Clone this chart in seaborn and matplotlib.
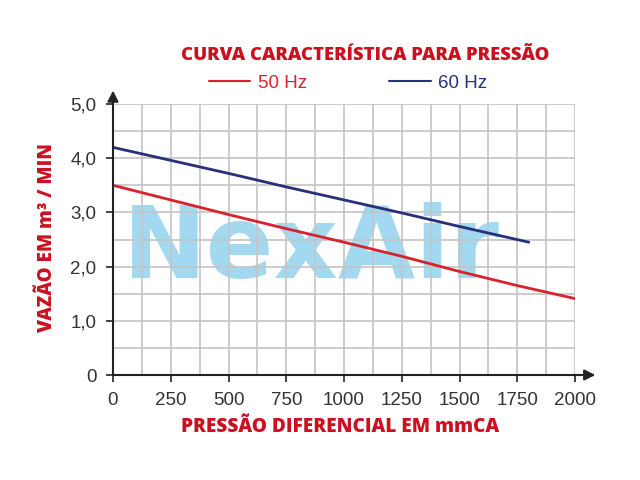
import matplotlib
matplotlib.use("Agg")
import matplotlib.pyplot as plt
import seaborn as sns
import pandas as pd
import numpy as np
from matplotlib.ticker import MultipleLocator, FixedLocator
from matplotlib.lines import Line2D

# ---- data ----
x_50 = [0, 250, 500, 750, 1000, 1250, 1500, 1750, 2000]
y_50 = [3.50, 3.23, 2.96, 2.70, 2.45, 2.19, 1.91, 1.65, 1.41]
x_60 = [0, 250, 500, 750, 1000, 1250, 1500, 1800]
y_60 = [4.20, 3.96, 3.72, 3.47, 3.23, 2.99, 2.74, 2.45]
series_names = ["50 Hz", "60 Hz"]
x_ticks = [0, 250, 500, 750, 1000, 1250, 1500, 1750, 2000]
y_ticks = [0, 1, 2, 3, 4, 5]
y_ticklabels = ["0", "1,0", "2,0", "3,0", "4,0", "5,0"]
title = "CURVA CARACTERÍSTICA PARA PRESSÃO"
xlabel = "PRESSÃO DIFERENCIAL EM mmCA"
ylabel = "VAZÃO EM m³ / MIN"
watermark = "NexAir"

df = pd.concat([
    pd.DataFrame({"x": x_50, "y": y_50, "serie": series_names[0]}),
    pd.DataFrame({"x": x_60, "y": y_60, "serie": series_names[1]}),
])

RED = "#d8232c"
NAVY = "#27307a"
TXT_RED = "#cc1020"

sns.set_theme(style="white")
plt.rcParams["font.family"] = ["Liberation Sans", "DejaVu Sans"]

fig = plt.figure(figsize=(6.4, 4.8), dpi=100)
ax = fig.add_axes([113/640, 1 - 375/480, 462/640, 271/480])

sns.lineplot(data=df, x="x", y="y", hue="serie", palette=[RED, NAVY],
             linewidth=2.0, ax=ax, legend=False, zorder=3, sort=False)

ax.set_xlim(0, 2000)
ax.set_ylim(0, 5)
ax.xaxis.set_major_locator(FixedLocator(x_ticks))
ax.xaxis.set_minor_locator(MultipleLocator(125))
ax.yaxis.set_major_locator(FixedLocator(y_ticks))
ax.yaxis.set_minor_locator(MultipleLocator(0.5))
ax.set_yticklabels(y_ticklabels)
ax.set_xticklabels([str(v) for v in x_ticks])

ax.set_axisbelow(False)
ax.grid(True, which="both", color="#c4c4c4", linewidth=1.2)
for s in ["top", "right"]:
    ax.spines[s].set_visible(False)
for s in ["left", "bottom"]:
    ax.spines[s].set_color("#222222")
    ax.spines[s].set_linewidth(1.5)
    ax.spines[s].set_zorder(4)

ax.tick_params(axis="both", which="major", direction="out", length=5, width=1.2,
               color="#222222", labelsize=13.5, labelcolor="#333333", pad=7,
               bottom=True, left=True)
ax.tick_params(axis="both", which="minor", length=0)
ax.set_xlabel("")
ax.set_ylabel("")

# arrows on axes
ax.annotate("", xy=(1.05, 0), xytext=(0.99, 0), xycoords="axes fraction",
            arrowprops=dict(arrowstyle="-|>", color="#222222", lw=1.5,
                            mutation_scale=16), annotation_clip=False)
ax.annotate("", xy=(0, 1.06), xytext=(0, 0.99), xycoords="axes fraction",
            arrowprops=dict(arrowstyle="-|>", color="#222222", lw=1.5,
                            mutation_scale=16), annotation_clip=False)

# watermark
ax.text(0.43, 0.46, watermark, transform=ax.transAxes, ha="center", va="center",
        fontsize=72, fontweight="heavy", color="#a3d9f0", zorder=0.5,
        family=["DejaVu Sans"])

# title and labels
fig.text(365/640, 1 - 55/480, title, ha="center", va="center",
         fontsize=13.3, fontweight="heavy", color=TXT_RED, family=["Open Sans"])
fig.text(340/640, 1 - 427/480, xlabel, ha="center", va="center",
         fontsize=13.7, fontweight="heavy", color=TXT_RED, family=["Open Sans"])
fig.text(47/640, 1 - 237/480, ylabel, ha="center", va="center", rotation=90,
         fontsize=13.5, fontweight="heavy", color=TXT_RED, family=["Open Sans"])

# legend
handles = [Line2D([], [], color=RED, lw=1.5), Line2D([], [], color=NAVY, lw=1.5)]
leg = fig.legend(handles, series_names, loc="center", ncol=2, frameon=False,
                 bbox_to_anchor=(348/640, 1 - 83/480), fontsize=13.5,
                 handlelength=2.2, handletextpad=0.4, columnspacing=4.4,
                 labelcolor=[RED, NAVY])

fig.savefig("out.png", dpi=100, facecolor="white")
